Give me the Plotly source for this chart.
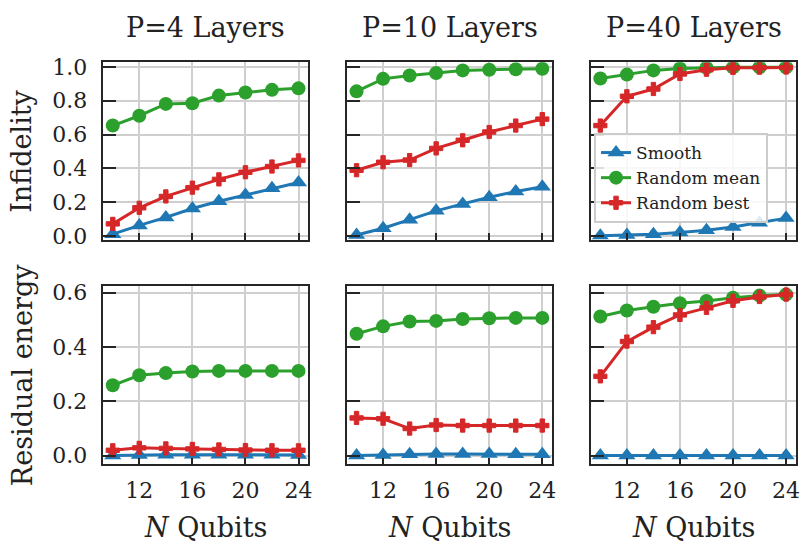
import plotly.graph_objects as go
from plotly.subplots import make_subplots

qubits = [10, 12, 14, 16, 18, 20, 22, 24]
x_ticks = [12, 16, 20, 24]
col_titles = ["P=4 Layers", "P=10 Layers", "P=40 Layers"]
row_labels = ["Infidelity", "Residual energy"]
series_names = ["Smooth", "Random mean", "Random best"]

# Infidelity (top row)
infid_smooth_p4 = [0.011, 0.063, 0.110, 0.163, 0.206, 0.243, 0.283, 0.316]
infid_mean_p4 = [0.653, 0.711, 0.781, 0.785, 0.830, 0.848, 0.864, 0.873]
infid_best_p4 = [0.072, 0.167, 0.234, 0.286, 0.335, 0.377, 0.411, 0.447]

infid_smooth_p10 = [0.006, 0.046, 0.097, 0.149, 0.190, 0.229, 0.263, 0.291]
infid_mean_p10 = [0.855, 0.929, 0.949, 0.963, 0.979, 0.983, 0.986, 0.989]
infid_best_p10 = [0.389, 0.436, 0.449, 0.518, 0.566, 0.615, 0.653, 0.691]

infid_smooth_p40 = [0.002, 0.006, 0.011, 0.021, 0.034, 0.053, 0.078, 0.106]
infid_mean_p40 = [0.931, 0.954, 0.979, 0.990, 0.995, 0.997, 0.998, 0.998]
infid_best_p40 = [0.653, 0.826, 0.869, 0.958, 0.983, 0.994, 0.995, 0.996]

# Residual energy (bottom row)
resid_smooth_p4 = [0.001, 0.003, 0.004, 0.004, 0.004, 0.004, 0.004, 0.003]
resid_mean_p4 = [0.259, 0.296, 0.304, 0.310, 0.312, 0.312, 0.312, 0.312]
resid_best_p4 = [0.020, 0.029, 0.027, 0.025, 0.023, 0.021, 0.020, 0.020]

resid_smooth_p10 = [0.001, 0.003, 0.005, 0.006, 0.006, 0.006, 0.005, 0.005]
resid_mean_p10 = [0.449, 0.476, 0.494, 0.496, 0.503, 0.506, 0.507, 0.507]
resid_best_p10 = [0.139, 0.136, 0.100, 0.113, 0.111, 0.111, 0.111, 0.111]

resid_smooth_p40 = [0.001, 0.001, 0.001, 0.001, 0.001, 0.001, 0.001, 0.001]
resid_mean_p40 = [0.512, 0.534, 0.548, 0.561, 0.569, 0.581, 0.589, 0.593]
resid_best_p40 = [0.292, 0.420, 0.473, 0.518, 0.544, 0.570, 0.584, 0.593]

panels = [
    [(infid_smooth_p4, infid_mean_p4, infid_best_p4),
     (infid_smooth_p10, infid_mean_p10, infid_best_p10),
     (infid_smooth_p40, infid_mean_p40, infid_best_p40)],
    [(resid_smooth_p4, resid_mean_p4, resid_best_p4),
     (resid_smooth_p10, resid_mean_p10, resid_best_p10),
     (resid_smooth_p40, resid_mean_p40, resid_best_p40)],
]

colors = ["#1f77b4", "#2ca02c", "#d62728"]
symbols = ["triangle-up", "circle", "cross"]
msizes = [15, 14, 11]

FONT = "DejaVu Serif, Liberation Serif, serif"
TXT = "#222222"
W, H = 806, 549

fig = make_subplots(rows=2, cols=3)

for r in range(2):
    for c in range(3):
        for k in range(3):
            fig.add_trace(
                go.Scatter(
                    x=qubits, y=panels[r][c][k], mode="lines+markers",
                    name=series_names[k],
                    line=dict(color=colors[k], width=3),
                    marker=dict(symbol=symbols[k], size=msizes[k], color=colors[k],
                                line=dict(width=1 if k == 2 else 0, color=colors[k])),
                    showlegend=(r == 0 and c == 2),
                    legendrank=k,
                ),
                row=r + 1, col=c + 1,
            )

xdoms = [(104 / W, 310 / W), (349 / W, 555 / W), (594 / W, 800 / W)]
ydoms = [((H - 239) / H, (H - 56) / H), ((H - 471) / H, (H - 287) / H)]
yranges = [[-0.021, 1.027], [-0.032, 0.624]]
yticks = [[0.0, 0.2, 0.4, 0.6, 0.8, 1.0], [0.0, 0.2, 0.4, 0.6]]

axis_common = dict(
    showline=True, mirror=True, linecolor="#262626", linewidth=1.6,
    showgrid=True, gridcolor="#cfcfcf", gridwidth=1.5, zeroline=False,
    ticks="inside", tickcolor="#262626", tickwidth=1.6,
    tickfont=dict(family=FONT, size=22, color=TXT),
)

for r in range(2):
    for c in range(3):
        fig.update_xaxes(
            domain=list(xdoms[c]), range=[9.3, 24.75],
            tickvals=x_ticks, ticklen=7,
            showticklabels=(r == 1), ticklabelstandoff=5,
            row=r + 1, col=c + 1, **axis_common,
        )
        fig.update_yaxes(
            domain=list(ydoms[r]), range=yranges[r],
            tickvals=yticks[r], tickformat=".1f", ticklen=13,
            showticklabels=(c == 0), ticklabelstandoff=10,
            row=r + 1, col=c + 1, **axis_common,
        )

annotations = []
for c in range(3):
    cx = (xdoms[c][0] + xdoms[c][1]) / 2
    annotations.append(dict(
        text=col_titles[c], x=cx, y=1 - 20 / H, xref="paper", yref="paper",
        xanchor="center", yanchor="middle", showarrow=False,
        font=dict(family=FONT, size=27, color=TXT)))
    annotations.append(dict(
        text="<i>N</i> Qubits", x=cx, y=1 - 536 / H, xref="paper", yref="paper",
        xanchor="center", yanchor="middle", showarrow=False,
        font=dict(family=FONT, size=27, color=TXT)))
for r in range(2):
    cy = (ydoms[r][0] + ydoms[r][1]) / 2
    annotations.append(dict(
        text=row_labels[r], x=22 / W, y=cy, xref="paper", yref="paper",
        xanchor="center", yanchor="middle", showarrow=False, textangle=-90,
        font=dict(family=FONT, size=27, color=TXT)))

fig.update_layout(
    width=W, height=H,
    margin=dict(l=0, r=0, t=0, b=0),
    paper_bgcolor="white", plot_bgcolor="white",
    font=dict(family=FONT, color=TXT),
    annotations=annotations,
    legend=dict(
        x=597 / W, y=1 - 129 / H, xanchor="left", yanchor="top",
        bgcolor="rgba(255,255,255,0.85)", bordercolor="#cccccc", borderwidth=2,
        font=dict(family=FONT, size=17, color=TXT),
        itemwidth=30, tracegroupgap=0,
    ),
)

fig.write_html(
    "out.html",
    config={"displayModeBar": False},
    post_script="document.body.style.margin='0';document.body.style.padding='0';",
)
